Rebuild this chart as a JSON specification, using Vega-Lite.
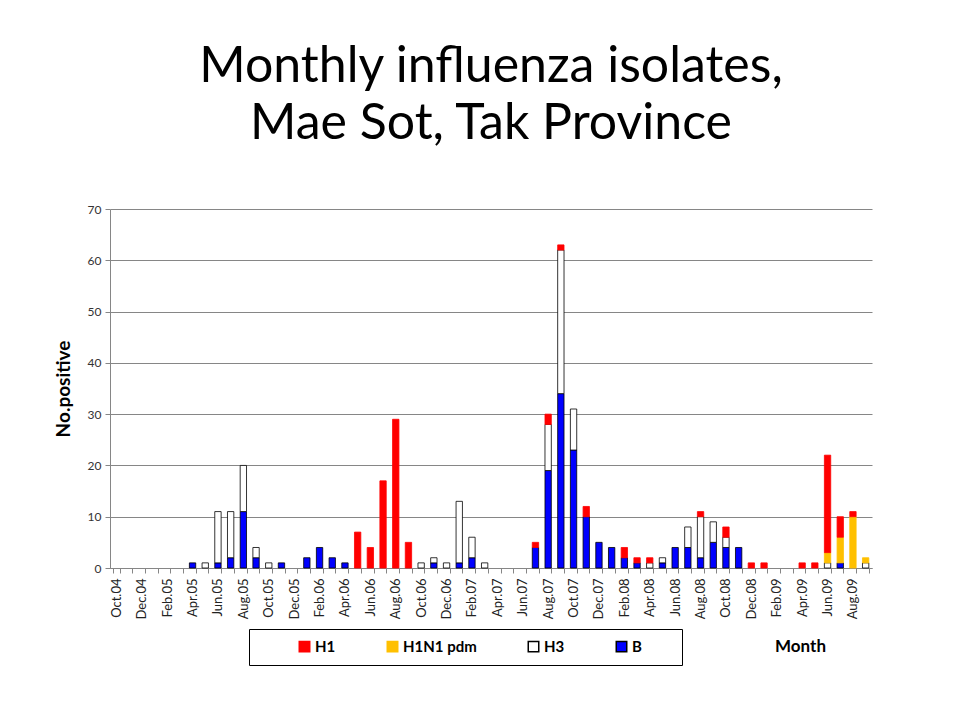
{
  "$schema": "https://vega.github.io/schema/vega-lite/v6.json",
  "width": 762,
  "height": 359,
  "autosize": "none",
  "padding": {"left": 110, "top": 209, "right": 81, "bottom": 151},
  "background": "white",
  "title": {
    "text": ["Monthly influenza isolates,", "Mae Sot, Tak Province"],
    "fontSize": 50,
    "font": "Lato",
    "fontWeight": "normal",
    "color": "black",
    "anchor": "middle",
    "offset": 54,
    "lineHeight": 57
  },
  "data": {
    "values": [
      {"month": "Apr.05", "type": "B", "n": 1},
      {"month": "May.05", "type": "H3", "n": 1},
      {"month": "Jun.05", "type": "B", "n": 1},
      {"month": "Jun.05", "type": "H3", "n": 10},
      {"month": "Jul.05", "type": "B", "n": 2},
      {"month": "Jul.05", "type": "H3", "n": 9},
      {"month": "Aug.05", "type": "B", "n": 11},
      {"month": "Aug.05", "type": "H3", "n": 9},
      {"month": "Sep.05", "type": "B", "n": 2},
      {"month": "Sep.05", "type": "H3", "n": 2},
      {"month": "Oct.05", "type": "H3", "n": 1},
      {"month": "Nov.05", "type": "B", "n": 1},
      {"month": "Jan.06", "type": "B", "n": 2},
      {"month": "Feb.06", "type": "B", "n": 4},
      {"month": "Mar.06", "type": "B", "n": 2},
      {"month": "Apr.06", "type": "B", "n": 1},
      {"month": "May.06", "type": "H1", "n": 7},
      {"month": "Jun.06", "type": "H1", "n": 4},
      {"month": "Jul.06", "type": "H1", "n": 17},
      {"month": "Aug.06", "type": "H1", "n": 29},
      {"month": "Sep.06", "type": "H1", "n": 5},
      {"month": "Oct.06", "type": "H3", "n": 1},
      {"month": "Nov.06", "type": "B", "n": 1},
      {"month": "Nov.06", "type": "H3", "n": 1},
      {"month": "Dec.06", "type": "H3", "n": 1},
      {"month": "Jan.07", "type": "B", "n": 1},
      {"month": "Jan.07", "type": "H3", "n": 12},
      {"month": "Feb.07", "type": "B", "n": 2},
      {"month": "Feb.07", "type": "H3", "n": 4},
      {"month": "Mar.07", "type": "H3", "n": 1},
      {"month": "Jul.07", "type": "B", "n": 4},
      {"month": "Jul.07", "type": "H1", "n": 1},
      {"month": "Aug.07", "type": "B", "n": 19},
      {"month": "Aug.07", "type": "H3", "n": 9},
      {"month": "Aug.07", "type": "H1", "n": 2},
      {"month": "Sep.07", "type": "B", "n": 34},
      {"month": "Sep.07", "type": "H3", "n": 28},
      {"month": "Sep.07", "type": "H1", "n": 1},
      {"month": "Oct.07", "type": "B", "n": 23},
      {"month": "Oct.07", "type": "H3", "n": 8},
      {"month": "Nov.07", "type": "B", "n": 10},
      {"month": "Nov.07", "type": "H1", "n": 2},
      {"month": "Dec.07", "type": "B", "n": 5},
      {"month": "Jan.08", "type": "B", "n": 4},
      {"month": "Feb.08", "type": "B", "n": 2},
      {"month": "Feb.08", "type": "H1", "n": 2},
      {"month": "Mar.08", "type": "B", "n": 1},
      {"month": "Mar.08", "type": "H1", "n": 1},
      {"month": "Apr.08", "type": "H3", "n": 1},
      {"month": "Apr.08", "type": "H1", "n": 1},
      {"month": "May.08", "type": "B", "n": 1},
      {"month": "May.08", "type": "H3", "n": 1},
      {"month": "Jun.08", "type": "B", "n": 4},
      {"month": "Jul.08", "type": "B", "n": 4},
      {"month": "Jul.08", "type": "H3", "n": 4},
      {"month": "Aug.08", "type": "B", "n": 2},
      {"month": "Aug.08", "type": "H3", "n": 8},
      {"month": "Aug.08", "type": "H1", "n": 1},
      {"month": "Sep.08", "type": "B", "n": 5},
      {"month": "Sep.08", "type": "H3", "n": 4},
      {"month": "Oct.08", "type": "B", "n": 4},
      {"month": "Oct.08", "type": "H3", "n": 2},
      {"month": "Oct.08", "type": "H1", "n": 2},
      {"month": "Nov.08", "type": "B", "n": 4},
      {"month": "Dec.08", "type": "H1", "n": 1},
      {"month": "Jan.09", "type": "H1", "n": 1},
      {"month": "Apr.09", "type": "H1", "n": 1},
      {"month": "May.09", "type": "H1", "n": 1},
      {"month": "Jun.09", "type": "H3", "n": 1},
      {"month": "Jun.09", "type": "H1N1 pdm", "n": 2},
      {"month": "Jun.09", "type": "H1", "n": 19},
      {"month": "Jul.09", "type": "B", "n": 1},
      {"month": "Jul.09", "type": "H1N1 pdm", "n": 5},
      {"month": "Jul.09", "type": "H1", "n": 4},
      {"month": "Aug.09", "type": "H1N1 pdm", "n": 10},
      {"month": "Aug.09", "type": "H1", "n": 1},
      {"month": "Sep.09", "type": "H3", "n": 1},
      {"month": "Sep.09", "type": "H1N1 pdm", "n": 1}
    ]
  },
  "transform": [
    {"calculate": "indexof(['B','H3','H1N1 pdm','H1'], datum.type)", "as": "ord"}
  ],
  "mark": {"type": "bar", "strokeWidth": 0.8},
  "encoding": {
    "x": {
      "field": "month",
      "type": "ordinal",
      "scale": {
        "domain": ["Oct.04","Nov.04","Dec.04","Jan.05","Feb.05","Mar.05","Apr.05","May.05","Jun.05","Jul.05","Aug.05","Sep.05","Oct.05","Nov.05","Dec.05","Jan.06","Feb.06","Mar.06","Apr.06","May.06","Jun.06","Jul.06","Aug.06","Sep.06","Oct.06","Nov.06","Dec.06","Jan.07","Feb.07","Mar.07","Apr.07","May.07","Jun.07","Jul.07","Aug.07","Sep.07","Oct.07","Nov.07","Dec.07","Jan.08","Feb.08","Mar.08","Apr.08","May.08","Jun.08","Jul.08","Aug.08","Sep.08","Oct.08","Nov.08","Dec.08","Jan.09","Feb.09","Mar.09","Apr.09","May.09","Jun.09","Jul.09","Aug.09","Sep.09"],
        "paddingInner": 0.5,
        "paddingOuter": 0.25
      },
      "axis": {
        "title": "Month",
        "titleX": 690,
        "titleY": 78,
        "titleAlign": "center",
        "titleBaseline": "middle",
        "titleFont": "Lato",
        "titleFontSize": 17,
        "titleFontWeight": "bold",
        "titleColor": "black",
        "labelAngle": -90,
        "labelFont": "Lato",
        "labelFontSize": 13,
        "labelColor": "#222222",
        "labelPadding": 5,
        "labelExpr": "test(/^(Oct|Dec|Feb|Apr|Jun|Aug)/, datum.value) ? datum.value : ''",
        "tickBand": "extent",
        "tickSize": 5,
        "tickColor": "#868686",
        "domainColor": "#868686",
        "grid": false
      }
    },
    "y": {
      "field": "n",
      "type": "quantitative",
      "aggregate": "sum",
      "stack": "zero",
      "scale": {"domain": [0, 70], "nice": false},
      "axis": {
        "title": "No.positive",
        "titleFont": "Lato",
        "titleFontSize": 19,
        "titleFontWeight": "bold",
        "titleColor": "black",
        "titlePadding": 14,
        "values": [0, 10, 20, 30, 40, 50, 60, 70],
        "labelFont": "Lato",
        "labelFontSize": 12,
        "labelColor": "#333333",
        "labelPadding": 4,
        "tickSize": 5,
        "tickColor": "#868686",
        "domainColor": "#868686",
        "grid": true,
        "gridColor": "#868686",
        "gridWidth": 1
      }
    },
    "color": {
      "field": "type",
      "type": "nominal",
      "scale": {
        "domain": ["H1", "H1N1 pdm", "H3", "B"],
        "range": ["#FF0000", "#FFC000", "#FFFFFF", "#0000FF"]
      },
      "legend": {
        "title": "\u00a0",
        "titleOrient": "right",
        "titlePadding": 30,
        "titleFontSize": 15,
        "orient": "none",
        "legendX": 139,
        "legendY": 420,
        "direction": "horizontal",
        "strokeColor": "black",
        "padding": 10,
        "symbolType": "square",
        "symbolSize": 110,
        "symbolOffset": 38,
        "labelFont": "Lato",
        "labelFontSize": 15,
        "labelFontWeight": "bold",
        "labelColor": "black",
        "labelOffset": 3,
        "columnPadding": 11
      }
    },
    "stroke": {
      "field": "type",
      "type": "nominal",
      "scale": {
        "domain": ["H1", "H1N1 pdm", "H3", "B"],
        "range": ["#FF0000", "#FFC000", "#000000", "#000000"]
      }
    },
    "order": {"field": "ord", "type": "quantitative"}
  },
  "config": {
    "view": {"stroke": null},
    "font": "Lato"
  }
}
